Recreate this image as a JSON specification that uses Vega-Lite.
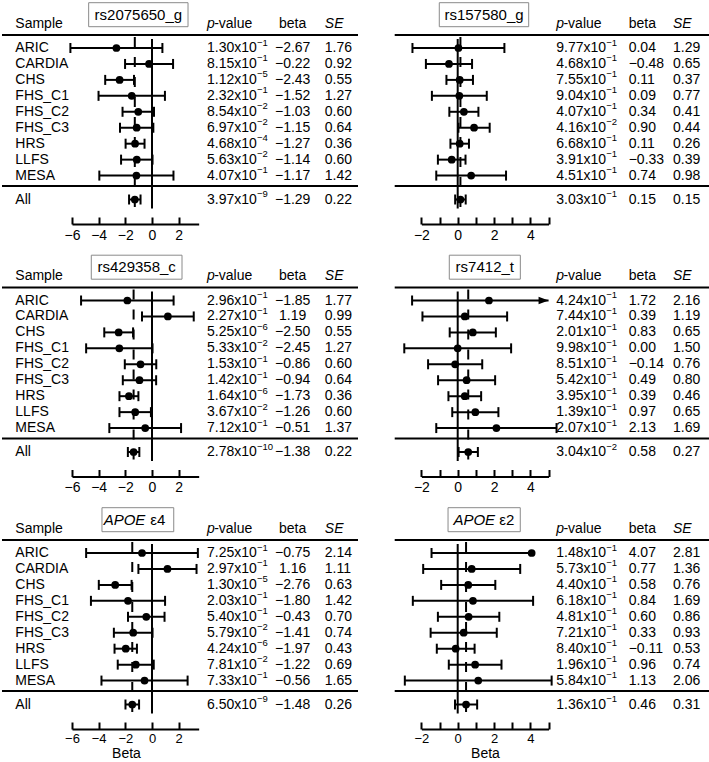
{
"$schema": "https://vega.github.io/schema/vega-lite/v6.json",
"padding": 0,
"background": "white",
"config": {"view": {"stroke": null}, "font": "Liberation Sans", "text": {"font": "Liberation Sans", "fontSize": 14, "color": "black", "baseline": "middle"}, "axis": {"labelFont": "Liberation Sans", "titleFont": "Liberation Sans"}},
"datasets": {
"rs2075650_g": [
{"study":"ARIC","pm":1.30,"pe":-1,"beta":-2.67,"se":1.76,"lo":-6.12,"hi":0.78},
{"study":"CARDIA","pm":8.15,"pe":-1,"beta":-0.22,"se":0.92,"lo":-2.02,"hi":1.58},
{"study":"CHS","pm":1.12,"pe":-5,"beta":-2.43,"se":0.55,"lo":-3.51,"hi":-1.35},
{"study":"FHS_C1","pm":2.32,"pe":-1,"beta":-1.52,"se":1.27,"lo":-4.01,"hi":0.97},
{"study":"FHS_C2","pm":8.54,"pe":-2,"beta":-1.03,"se":0.60,"lo":-2.21,"hi":0.15},
{"study":"FHS_C3","pm":6.97,"pe":-2,"beta":-1.15,"se":0.64,"lo":-2.40,"hi":0.10},
{"study":"HRS","pm":4.68,"pe":-4,"beta":-1.27,"se":0.36,"lo":-1.98,"hi":-0.56},
{"study":"LLFS","pm":5.63,"pe":-2,"beta":-1.14,"se":0.60,"lo":-2.32,"hi":0.04},
{"study":"MESA","pm":4.07,"pe":-1,"beta":-1.17,"se":1.42,"lo":-3.95,"hi":1.61},
{"study":"All","pm":3.97,"pe":-9,"beta":-1.29,"se":0.22,"lo":-1.72,"hi":-0.86}
],
"rs157580_g": [
{"study":"ARIC","pm":9.77,"pe":-1,"beta":0.04,"se":1.29,"lo":-2.49,"hi":2.57},
{"study":"CARDIA","pm":4.68,"pe":-1,"beta":-0.48,"se":0.65,"lo":-1.75,"hi":0.79},
{"study":"CHS","pm":7.55,"pe":-1,"beta":0.11,"se":0.37,"lo":-0.62,"hi":0.84},
{"study":"FHS_C1","pm":9.04,"pe":-1,"beta":0.09,"se":0.77,"lo":-1.42,"hi":1.60},
{"study":"FHS_C2","pm":4.07,"pe":-1,"beta":0.34,"se":0.41,"lo":-0.46,"hi":1.14},
{"study":"FHS_C3","pm":4.16,"pe":-2,"beta":0.90,"se":0.44,"lo":0.04,"hi":1.76},
{"study":"HRS","pm":6.68,"pe":-1,"beta":0.11,"se":0.26,"lo":-0.40,"hi":0.62},
{"study":"LLFS","pm":3.91,"pe":-1,"beta":-0.33,"se":0.39,"lo":-1.09,"hi":0.43},
{"study":"MESA","pm":4.51,"pe":-1,"beta":0.74,"se":0.98,"lo":-1.18,"hi":2.66},
{"study":"All","pm":3.03,"pe":-1,"beta":0.15,"se":0.15,"lo":-0.14,"hi":0.44}
],
"rs429358_c": [
{"study":"ARIC","pm":2.96,"pe":-1,"beta":-1.85,"se":1.77,"lo":-5.32,"hi":1.62},
{"study":"CARDIA","pm":2.27,"pe":-1,"beta":1.19,"se":0.99,"lo":-0.75,"hi":3.13},
{"study":"CHS","pm":5.25,"pe":-6,"beta":-2.50,"se":0.55,"lo":-3.58,"hi":-1.42},
{"study":"FHS_C1","pm":5.33,"pe":-2,"beta":-2.45,"se":1.27,"lo":-4.94,"hi":0.04},
{"study":"FHS_C2","pm":1.53,"pe":-1,"beta":-0.86,"se":0.60,"lo":-2.04,"hi":0.32},
{"study":"FHS_C3","pm":1.42,"pe":-1,"beta":-0.94,"se":0.64,"lo":-2.19,"hi":0.31},
{"study":"HRS","pm":1.64,"pe":-6,"beta":-1.73,"se":0.36,"lo":-2.44,"hi":-1.02},
{"study":"LLFS","pm":3.67,"pe":-2,"beta":-1.26,"se":0.60,"lo":-2.44,"hi":-0.08},
{"study":"MESA","pm":7.12,"pe":-1,"beta":-0.51,"se":1.37,"lo":-3.20,"hi":2.18},
{"study":"All","pm":2.78,"pe":-10,"beta":-1.38,"se":0.22,"lo":-1.81,"hi":-0.95}
],
"rs7412_t": [
{"study":"ARIC","pm":4.24,"pe":-1,"beta":1.72,"se":2.16,"lo":-2.51,"hi":5.0,"trunc":"arrow"},
{"study":"CARDIA","pm":7.44,"pe":-1,"beta":0.39,"se":1.19,"lo":-1.94,"hi":2.72},
{"study":"CHS","pm":2.01,"pe":-1,"beta":0.83,"se":0.65,"lo":-0.44,"hi":2.10},
{"study":"FHS_C1","pm":9.98,"pe":-1,"beta":0.00,"se":1.50,"lo":-2.94,"hi":2.94},
{"study":"FHS_C2","pm":8.51,"pe":-1,"beta":-0.14,"se":0.76,"lo":-1.63,"hi":1.35},
{"study":"FHS_C3","pm":5.42,"pe":-1,"beta":0.49,"se":0.80,"lo":-1.08,"hi":2.06},
{"study":"HRS","pm":3.95,"pe":-1,"beta":0.39,"se":0.46,"lo":-0.51,"hi":1.29},
{"study":"LLFS","pm":1.39,"pe":-1,"beta":0.97,"se":0.65,"lo":-0.30,"hi":2.24},
{"study":"MESA","pm":2.07,"pe":-1,"beta":2.13,"se":1.69,"lo":-1.18,"hi":5.44},
{"study":"All","pm":3.04,"pe":-2,"beta":0.58,"se":0.27,"lo":0.05,"hi":1.11}
],
"apoe4": [
{"study":"ARIC","pm":7.25,"pe":-1,"beta":-0.75,"se":2.14,"lo":-4.94,"hi":3.44},
{"study":"CARDIA","pm":2.97,"pe":-1,"beta":1.16,"se":1.11,"lo":-1.02,"hi":3.34},
{"study":"CHS","pm":1.30,"pe":-5,"beta":-2.76,"se":0.63,"lo":-3.99,"hi":-1.53},
{"study":"FHS_C1","pm":2.03,"pe":-1,"beta":-1.80,"se":1.42,"lo":-4.58,"hi":0.98},
{"study":"FHS_C2","pm":5.40,"pe":-1,"beta":-0.43,"se":0.70,"lo":-1.80,"hi":0.94},
{"study":"FHS_C3","pm":5.79,"pe":-2,"beta":-1.41,"se":0.74,"lo":-2.86,"hi":0.04},
{"study":"HRS","pm":4.24,"pe":-6,"beta":-1.97,"se":0.43,"lo":-2.81,"hi":-1.13},
{"study":"LLFS","pm":7.81,"pe":-2,"beta":-1.22,"se":0.69,"lo":-2.57,"hi":0.13},
{"study":"MESA","pm":7.33,"pe":-1,"beta":-0.56,"se":1.65,"lo":-3.79,"hi":2.67},
{"study":"All","pm":6.50,"pe":-9,"beta":-1.48,"se":0.26,"lo":-1.99,"hi":-0.97}
],
"apoe2": [
{"study":"ARIC","pm":1.48,"pe":-1,"beta":4.07,"se":2.81,"lo":-1.44,"hi":4.07,"trunc":"hidden"},
{"study":"CARDIA","pm":5.73,"pe":-1,"beta":0.77,"se":1.36,"lo":-1.90,"hi":3.44},
{"study":"CHS","pm":4.40,"pe":-1,"beta":0.58,"se":0.76,"lo":-0.91,"hi":2.07},
{"study":"FHS_C1","pm":6.18,"pe":-1,"beta":0.84,"se":1.69,"lo":-2.47,"hi":4.15},
{"study":"FHS_C2","pm":4.81,"pe":-1,"beta":0.60,"se":0.86,"lo":-1.09,"hi":2.29},
{"study":"FHS_C3","pm":7.21,"pe":-1,"beta":0.33,"se":0.93,"lo":-1.49,"hi":2.15},
{"study":"HRS","pm":8.40,"pe":-1,"beta":-0.11,"se":0.53,"lo":-1.15,"hi":0.93},
{"study":"LLFS","pm":1.96,"pe":-1,"beta":0.96,"se":0.74,"lo":-0.49,"hi":2.41},
{"study":"MESA","pm":5.84,"pe":-1,"beta":1.13,"se":2.06,"lo":-2.91,"hi":5.17},
{"study":"All","pm":1.36,"pe":-1,"beta":0.46,"se":0.31,"lo":-0.15,"hi":1.07}
]
},
"columns": 2,
"spacing": {"row": 30.5, "column": 5},
"bounds": "flush",
"concat": [
{"width": 355, "height": 222, "data": {"name": "rs2075650_g"},
 "encoding": {"y": {"field": "study", "type": "nominal", "axis": null, "scale": {"type": "point", "padding": 0, "range": [46, 197.5], "domain": ["ARIC","s1","CARDIA","s2","CHS","s3","FHS_C1","s4","FHS_C2","s5","FHS_C3","s6","HRS","s7","LLFS","s8","MESA","s9","s10","All"]}}},
 "layer": [
  {"mark": {"type": "rule", "color": "black", "strokeWidth": 2}, "encoding": {"x": {"field": "lo", "type": "quantitative", "scale": {"domain": [-6, 3.5], "range": [70, 196.67], "nice": false, "zero": false}, "axis": {"values": [-6,-5,-4,-3,-2,-1,0,1,2,3], "labelExpr": "datum.value % 2 === 0 ? datum.label : ''", "tickSize": -7, "tickWidth": 2, "tickColor": "black", "domainColor": "black", "domainWidth": 2, "labelFontSize": 14, "labelColor": "black", "labelPadding": 18, "labelBaseline": "middle", "labelFlush": false, "labelOverlap": false, "grid": false, "title": null}}, "x2": {"field": "hi"}}},
  {"transform": [{"filter": "datum.study === 'All'"}], "mark": {"type": "rule", "color": "black", "strokeWidth": 2, "yOffset": -13}, "encoding": {"x": {"datum": -11.25, "type": "quantitative"}, "x2": {"datum": 15.45}, "y": {"datum": "ARIC", "type": "nominal"}}},
  {"transform": [{"filter": "datum.study === 'All'"}], "mark": {"type": "rule", "color": "black", "strokeWidth": 2, "yOffset": 10.5}, "encoding": {"x": {"datum": -11.25, "type": "quantitative"}, "x2": {"datum": 15.45}, "y": {"datum": "MESA", "type": "nominal"}}},
  {"transform": [{"filter": "datum.study === 'All'"}], "mark": {"type": "rule", "color": "black", "strokeWidth": 2, "yOffset": -9, "y2Offset": 9}, "encoding": {"x": {"datum": 0, "type": "quantitative"}, "y": {"datum": "ARIC", "type": "nominal"}, "y2": {"datum": "All"}}},
  {"transform": [{"filter": "datum.study === 'All'"}], "mark": {"type": "rule", "color": "black", "strokeWidth": 2, "strokeDash": [10, 10], "yOffset": -11, "y2Offset": 9}, "encoding": {"x": {"field": "beta", "type": "quantitative"}, "y": {"datum": "ARIC", "type": "nominal"}, "y2": {"datum": "All"}}},
  {"transform": [{"fold": ["lo", "hi"], "as": ["end", "xv"]}, {"filter": "datum.end === 'lo' || !datum.trunc"}], "mark": {"type": "point", "shape": "M0,-1L0,1", "size": 100, "filled": false, "stroke": "black", "strokeWidth": 2, "opacity": 1}, "encoding": {"x": {"field": "xv", "type": "quantitative"}}},
  {"mark": {"type": "point", "shape": "circle", "size": 60, "filled": true, "color": "black", "opacity": 1}, "encoding": {"x": {"field": "beta", "type": "quantitative"}}},
  {"transform": [{"filter": "datum.study === 'All'"}], "mark": {"type": "point", "shape": "M-4.14,-1L4.14,-1L4.14,1L-4.14,1Z", "size": 576, "filled": true, "fill": "white", "stroke": "#8a8a8a", "strokeWidth": 1, "opacity": 1, "yOffset": -33.3}, "encoding": {"x": {"datum": -1.024, "type": "quantitative"}, "y": {"datum": "ARIC", "type": "nominal"}}},
  {"transform": [{"filter": "datum.study === 'All'"}], "mark": {"type": "text", "text": "rs2075650_g", "fontSize": 15, "align": "center", "dy": -33.3}, "encoding": {"x": {"datum": -1.024, "type": "quantitative"}, "y": {"datum": "ARIC", "type": "nominal"}}},
  {"transform": [{"filter": "datum.study === 'All'"}], "mark": {"type": "text", "text": "Sample", "align": "left", "dy": -24.5}, "encoding": {"x": {"datum": -10.25, "type": "quantitative"}, "y": {"datum": "ARIC", "type": "nominal"}}},
  {"transform": [{"filter": "datum.study === 'All'"}], "mark": {"type": "text", "text": "p", "fontStyle": "italic", "align": "left", "dy": -24.5}, "encoding": {"x": {"datum": 4.125, "type": "quantitative"}, "y": {"datum": "ARIC", "type": "nominal"}}},
  {"transform": [{"filter": "datum.study === 'All'"}], "mark": {"type": "text", "text": "-value", "align": "left", "dy": -24.5}, "encoding": {"x": {"datum": 4.66, "type": "quantitative"}, "y": {"datum": "ARIC", "type": "nominal"}}},
  {"transform": [{"filter": "datum.study === 'All'"}], "mark": {"type": "text", "text": "beta", "align": "center", "dy": -24.5}, "encoding": {"x": {"datum": 10.55, "type": "quantitative"}, "y": {"datum": "ARIC", "type": "nominal"}}},
  {"transform": [{"filter": "datum.study === 'All'"}], "mark": {"type": "text", "text": "SE", "fontStyle": "italic", "align": "left", "dy": -24.5}, "encoding": {"x": {"datum": 12.96, "type": "quantitative"}, "y": {"datum": "ARIC", "type": "nominal"}}},
  {"mark": {"type": "text", "align": "left"}, "encoding": {"x": {"datum": -10.25, "type": "quantitative"}, "text": {"field": "study"}}},
  {"transform": [{"calculate": "format(datum.pm, '.2f') + 'x10'", "as": "ptxt"}], "mark": {"type": "text", "align": "left"}, "encoding": {"x": {"datum": 4.125, "type": "quantitative"}, "text": {"field": "ptxt"}}},
  {"mark": {"type": "text", "align": "left", "fontSize": 9.5, "dy": -5.5}, "encoding": {"x": {"datum": 7.875, "type": "quantitative"}, "text": {"field": "pe", "type": "quantitative", "format": "d"}}},
  {"mark": {"type": "text", "align": "center"}, "encoding": {"x": {"datum": 10.55, "type": "quantitative"}, "text": {"field": "beta", "type": "quantitative", "format": ".2f"}}},
  {"mark": {"type": "text", "align": "left"}, "encoding": {"x": {"datum": 12.96, "type": "quantitative"}, "text": {"field": "se", "type": "quantitative", "format": ".2f"}}}
 ]},
{"width": 349, "height": 222, "data": {"name": "rs157580_g"},
 "encoding": {"y": {"field": "study", "type": "nominal", "axis": null, "scale": {"type": "point", "padding": 0, "range": [46, 197.5], "domain": ["ARIC","s1","CARDIA","s2","CHS","s3","FHS_C1","s4","FHS_C2","s5","FHS_C3","s6","HRS","s7","LLFS","s8","MESA","s9","s10","All"]}}},
 "layer": [
  {"mark": {"type": "rule", "color": "black", "strokeWidth": 2}, "encoding": {"x": {"field": "lo", "type": "quantitative", "scale": {"domain": [-2, 5], "range": [59.36, 186.55], "nice": false, "zero": false}, "axis": {"values": [-2,-1,0,1,2,3,4,5], "labelExpr": "datum.value % 2 === 0 ? datum.label : ''", "tickSize": -7, "tickWidth": 2, "tickColor": "black", "domainColor": "black", "domainWidth": 2, "labelFontSize": 14, "labelColor": "black", "labelPadding": 18, "labelBaseline": "middle", "labelFlush": false, "labelOverlap": false, "grid": false, "title": null}}, "x2": {"field": "hi"}}},
  {"transform": [{"filter": "datum.study === 'All'"}], "mark": {"type": "rule", "color": "black", "strokeWidth": 2, "yOffset": -13}, "encoding": {"x": {"datum": -3.467, "type": "quantitative"}, "x2": {"datum": 13.94}, "y": {"datum": "ARIC", "type": "nominal"}}},
  {"transform": [{"filter": "datum.study === 'All'"}], "mark": {"type": "rule", "color": "black", "strokeWidth": 2, "yOffset": 10.5}, "encoding": {"x": {"datum": -3.467, "type": "quantitative"}, "x2": {"datum": 13.94}, "y": {"datum": "MESA", "type": "nominal"}}},
  {"transform": [{"filter": "datum.study === 'All'"}], "mark": {"type": "rule", "color": "black", "strokeWidth": 2, "yOffset": -9, "y2Offset": 9}, "encoding": {"x": {"datum": 0, "type": "quantitative"}, "y": {"datum": "ARIC", "type": "nominal"}, "y2": {"datum": "All"}}},
  {"transform": [{"filter": "datum.study === 'All'"}], "mark": {"type": "rule", "color": "black", "strokeWidth": 2, "strokeDash": [10, 10], "yOffset": -11, "y2Offset": 9}, "encoding": {"x": {"field": "beta", "type": "quantitative"}, "y": {"datum": "ARIC", "type": "nominal"}, "y2": {"datum": "All"}}},
  {"transform": [{"fold": ["lo", "hi"], "as": ["end", "xv"]}, {"filter": "datum.end === 'lo' || !datum.trunc"}], "mark": {"type": "point", "shape": "M0,-1L0,1", "size": 100, "filled": false, "stroke": "black", "strokeWidth": 2, "opacity": 1}, "encoding": {"x": {"field": "xv", "type": "quantitative"}}},
  {"mark": {"type": "point", "shape": "circle", "size": 60, "filled": true, "color": "black", "opacity": 1}, "encoding": {"x": {"field": "beta", "type": "quantitative"}}},
  {"transform": [{"filter": "datum.study === 'All'"}], "mark": {"type": "point", "shape": "M-3.725,-1L3.725,-1L3.725,1L-3.725,1Z", "size": 576, "filled": true, "fill": "white", "stroke": "#8a8a8a", "strokeWidth": 1, "opacity": 1, "yOffset": -33.3}, "encoding": {"x": {"datum": 1.447, "type": "quantitative"}, "y": {"datum": "ARIC", "type": "nominal"}}},
  {"transform": [{"filter": "datum.study === 'All'"}], "mark": {"type": "text", "text": "rs157580_g", "fontSize": 15, "align": "center", "dy": -33.3}, "encoding": {"x": {"datum": 1.447, "type": "quantitative"}, "y": {"datum": "ARIC", "type": "nominal"}}},
  {"transform": [{"filter": "datum.study === 'All'"}], "mark": {"type": "text", "text": "p", "fontStyle": "italic", "align": "left", "dy": -24.5}, "encoding": {"x": {"datum": 5.427, "type": "quantitative"}, "y": {"datum": "ARIC", "type": "nominal"}}},
  {"transform": [{"filter": "datum.study === 'All'"}], "mark": {"type": "text", "text": "-value", "align": "left", "dy": -24.5}, "encoding": {"x": {"datum": 5.82, "type": "quantitative"}, "y": {"datum": "ARIC", "type": "nominal"}}},
  {"transform": [{"filter": "datum.study === 'All'"}], "mark": {"type": "text", "text": "beta", "align": "left", "dy": -24.5}, "encoding": {"x": {"datum": 9.411, "type": "quantitative"}, "y": {"datum": "ARIC", "type": "nominal"}}},
  {"transform": [{"filter": "datum.study === 'All'"}], "mark": {"type": "text", "text": "SE", "fontStyle": "italic", "align": "left", "dy": -24.5}, "encoding": {"x": {"datum": 11.85, "type": "quantitative"}, "y": {"datum": "ARIC", "type": "nominal"}}},
  {"transform": [{"calculate": "format(datum.pm, '.2f') + 'x10'", "as": "ptxt"}], "mark": {"type": "text", "align": "left"}, "encoding": {"x": {"datum": 5.427, "type": "quantitative"}, "text": {"field": "ptxt"}}},
  {"mark": {"type": "text", "align": "left", "fontSize": 9.5, "dy": -5.5}, "encoding": {"x": {"datum": 8.179, "type": "quantitative"}, "text": {"field": "pe", "type": "quantitative", "format": "d"}}},
  {"mark": {"type": "text", "align": "left"}, "encoding": {"x": {"datum": 9.411, "type": "quantitative"}, "text": {"field": "beta", "type": "quantitative", "format": ".2f"}}},
  {"mark": {"type": "text", "align": "left"}, "encoding": {"x": {"datum": 11.85, "type": "quantitative"}, "text": {"field": "se", "type": "quantitative", "format": ".2f"}}}
 ]},
{"width": 355, "height": 222, "data": {"name": "rs429358_c"},
 "encoding": {"y": {"field": "study", "type": "nominal", "axis": null, "scale": {"type": "point", "padding": 0, "range": [46, 197.5], "domain": ["ARIC","s1","CARDIA","s2","CHS","s3","FHS_C1","s4","FHS_C2","s5","FHS_C3","s6","HRS","s7","LLFS","s8","MESA","s9","s10","All"]}}},
 "layer": [
  {"mark": {"type": "rule", "color": "black", "strokeWidth": 2}, "encoding": {"x": {"field": "lo", "type": "quantitative", "scale": {"domain": [-6, 3.5], "range": [70, 196.67], "nice": false, "zero": false}, "axis": {"values": [-6,-5,-4,-3,-2,-1,0,1,2,3], "labelExpr": "datum.value % 2 === 0 ? datum.label : ''", "tickSize": -7, "tickWidth": 2, "tickColor": "black", "domainColor": "black", "domainWidth": 2, "labelFontSize": 14, "labelColor": "black", "labelPadding": 18, "labelBaseline": "middle", "labelFlush": false, "labelOverlap": false, "grid": false, "title": null}}, "x2": {"field": "hi"}}},
  {"transform": [{"filter": "datum.study === 'All'"}], "mark": {"type": "rule", "color": "black", "strokeWidth": 2, "yOffset": -13}, "encoding": {"x": {"datum": -11.25, "type": "quantitative"}, "x2": {"datum": 15.45}, "y": {"datum": "ARIC", "type": "nominal"}}},
  {"transform": [{"filter": "datum.study === 'All'"}], "mark": {"type": "rule", "color": "black", "strokeWidth": 2, "yOffset": 10.5}, "encoding": {"x": {"datum": -11.25, "type": "quantitative"}, "x2": {"datum": 15.45}, "y": {"datum": "MESA", "type": "nominal"}}},
  {"transform": [{"filter": "datum.study === 'All'"}], "mark": {"type": "rule", "color": "black", "strokeWidth": 2, "yOffset": -9, "y2Offset": 9}, "encoding": {"x": {"datum": 0, "type": "quantitative"}, "y": {"datum": "ARIC", "type": "nominal"}, "y2": {"datum": "All"}}},
  {"transform": [{"filter": "datum.study === 'All'"}], "mark": {"type": "rule", "color": "black", "strokeWidth": 2, "strokeDash": [10, 10], "yOffset": -11, "y2Offset": 9}, "encoding": {"x": {"field": "beta", "type": "quantitative"}, "y": {"datum": "ARIC", "type": "nominal"}, "y2": {"datum": "All"}}},
  {"transform": [{"fold": ["lo", "hi"], "as": ["end", "xv"]}, {"filter": "datum.end === 'lo' || !datum.trunc"}], "mark": {"type": "point", "shape": "M0,-1L0,1", "size": 100, "filled": false, "stroke": "black", "strokeWidth": 2, "opacity": 1}, "encoding": {"x": {"field": "xv", "type": "quantitative"}}},
  {"mark": {"type": "point", "shape": "circle", "size": 60, "filled": true, "color": "black", "opacity": 1}, "encoding": {"x": {"field": "beta", "type": "quantitative"}}},
  {"transform": [{"filter": "datum.study === 'All'"}], "mark": {"type": "point", "shape": "M-3.78,-1L3.78,-1L3.78,1L-3.78,1Z", "size": 576, "filled": true, "fill": "white", "stroke": "#8a8a8a", "strokeWidth": 1, "opacity": 1, "yOffset": -33.3}, "encoding": {"x": {"datum": -1.151, "type": "quantitative"}, "y": {"datum": "ARIC", "type": "nominal"}}},
  {"transform": [{"filter": "datum.study === 'All'"}], "mark": {"type": "text", "text": "rs429358_c", "fontSize": 15, "align": "center", "dy": -33.3}, "encoding": {"x": {"datum": -1.151, "type": "quantitative"}, "y": {"datum": "ARIC", "type": "nominal"}}},
  {"transform": [{"filter": "datum.study === 'All'"}], "mark": {"type": "text", "text": "Sample", "align": "left", "dy": -24.5}, "encoding": {"x": {"datum": -10.25, "type": "quantitative"}, "y": {"datum": "ARIC", "type": "nominal"}}},
  {"transform": [{"filter": "datum.study === 'All'"}], "mark": {"type": "text", "text": "p", "fontStyle": "italic", "align": "left", "dy": -24.5}, "encoding": {"x": {"datum": 4.125, "type": "quantitative"}, "y": {"datum": "ARIC", "type": "nominal"}}},
  {"transform": [{"filter": "datum.study === 'All'"}], "mark": {"type": "text", "text": "-value", "align": "left", "dy": -24.5}, "encoding": {"x": {"datum": 4.66, "type": "quantitative"}, "y": {"datum": "ARIC", "type": "nominal"}}},
  {"transform": [{"filter": "datum.study === 'All'"}], "mark": {"type": "text", "text": "beta", "align": "center", "dy": -24.5}, "encoding": {"x": {"datum": 10.55, "type": "quantitative"}, "y": {"datum": "ARIC", "type": "nominal"}}},
  {"transform": [{"filter": "datum.study === 'All'"}], "mark": {"type": "text", "text": "SE", "fontStyle": "italic", "align": "left", "dy": -24.5}, "encoding": {"x": {"datum": 12.96, "type": "quantitative"}, "y": {"datum": "ARIC", "type": "nominal"}}},
  {"mark": {"type": "text", "align": "left"}, "encoding": {"x": {"datum": -10.25, "type": "quantitative"}, "text": {"field": "study"}}},
  {"transform": [{"calculate": "format(datum.pm, '.2f') + 'x10'", "as": "ptxt"}], "mark": {"type": "text", "align": "left"}, "encoding": {"x": {"datum": 4.125, "type": "quantitative"}, "text": {"field": "ptxt"}}},
  {"mark": {"type": "text", "align": "left", "fontSize": 9.5, "dy": -5.5}, "encoding": {"x": {"datum": 7.875, "type": "quantitative"}, "text": {"field": "pe", "type": "quantitative", "format": "d"}}},
  {"mark": {"type": "text", "align": "center"}, "encoding": {"x": {"datum": 10.55, "type": "quantitative"}, "text": {"field": "beta", "type": "quantitative", "format": ".2f"}}},
  {"mark": {"type": "text", "align": "left"}, "encoding": {"x": {"datum": 12.96, "type": "quantitative"}, "text": {"field": "se", "type": "quantitative", "format": ".2f"}}}
 ]},
{"width": 349, "height": 222, "data": {"name": "rs7412_t"},
 "encoding": {"y": {"field": "study", "type": "nominal", "axis": null, "scale": {"type": "point", "padding": 0, "range": [46, 197.5], "domain": ["ARIC","s1","CARDIA","s2","CHS","s3","FHS_C1","s4","FHS_C2","s5","FHS_C3","s6","HRS","s7","LLFS","s8","MESA","s9","s10","All"]}}},
 "layer": [
  {"mark": {"type": "rule", "color": "black", "strokeWidth": 2}, "encoding": {"x": {"field": "lo", "type": "quantitative", "scale": {"domain": [-2, 5], "range": [59.36, 186.55], "nice": false, "zero": false}, "axis": {"values": [-2,-1,0,1,2,3,4,5], "labelExpr": "datum.value % 2 === 0 ? datum.label : ''", "tickSize": -7, "tickWidth": 2, "tickColor": "black", "domainColor": "black", "domainWidth": 2, "labelFontSize": 14, "labelColor": "black", "labelPadding": 18, "labelBaseline": "middle", "labelFlush": false, "labelOverlap": false, "grid": false, "title": null}}, "x2": {"field": "hi"}}},
  {"transform": [{"filter": "datum.study === 'All'"}], "mark": {"type": "rule", "color": "black", "strokeWidth": 2, "yOffset": -13}, "encoding": {"x": {"datum": -3.467, "type": "quantitative"}, "x2": {"datum": 13.94}, "y": {"datum": "ARIC", "type": "nominal"}}},
  {"transform": [{"filter": "datum.study === 'All'"}], "mark": {"type": "rule", "color": "black", "strokeWidth": 2, "yOffset": 10.5}, "encoding": {"x": {"datum": -3.467, "type": "quantitative"}, "x2": {"datum": 13.94}, "y": {"datum": "MESA", "type": "nominal"}}},
  {"transform": [{"filter": "datum.study === 'All'"}], "mark": {"type": "rule", "color": "black", "strokeWidth": 2, "yOffset": -9, "y2Offset": 9}, "encoding": {"x": {"datum": 0, "type": "quantitative"}, "y": {"datum": "ARIC", "type": "nominal"}, "y2": {"datum": "All"}}},
  {"transform": [{"filter": "datum.study === 'All'"}], "mark": {"type": "rule", "color": "black", "strokeWidth": 2, "strokeDash": [10, 10], "yOffset": -11, "y2Offset": 9}, "encoding": {"x": {"field": "beta", "type": "quantitative"}, "y": {"datum": "ARIC", "type": "nominal"}, "y2": {"datum": "All"}}},
  {"transform": [{"fold": ["lo", "hi"], "as": ["end", "xv"]}, {"filter": "datum.end === 'lo' || !datum.trunc"}], "mark": {"type": "point", "shape": "M0,-1L0,1", "size": 100, "filled": false, "stroke": "black", "strokeWidth": 2, "opacity": 1}, "encoding": {"x": {"field": "xv", "type": "quantitative"}}},
  {"transform": [{"filter": "datum.trunc === 'arrow'"}], "mark": {"type": "point", "shape": "M-2,-0.75L0,0L-2,0.75Z", "size": 100, "filled": true, "color": "black", "strokeWidth": 0, "opacity": 1}, "encoding": {"x": {"field": "hi", "type": "quantitative"}}},
  {"mark": {"type": "point", "shape": "circle", "size": 60, "filled": true, "color": "black", "opacity": 1}, "encoding": {"x": {"field": "beta", "type": "quantitative"}}},
  {"transform": [{"filter": "datum.study === 'All'"}], "mark": {"type": "point", "shape": "M-2.96,-1L2.96,-1L2.96,1L-2.96,1Z", "size": 576, "filled": true, "fill": "white", "stroke": "#8a8a8a", "strokeWidth": 1, "opacity": 1, "yOffset": -33.3}, "encoding": {"x": {"datum": 1.492, "type": "quantitative"}, "y": {"datum": "ARIC", "type": "nominal"}}},
  {"transform": [{"filter": "datum.study === 'All'"}], "mark": {"type": "text", "text": "rs7412_t", "fontSize": 15, "align": "center", "dy": -33.3}, "encoding": {"x": {"datum": 1.492, "type": "quantitative"}, "y": {"datum": "ARIC", "type": "nominal"}}},
  {"transform": [{"filter": "datum.study === 'All'"}], "mark": {"type": "text", "text": "p", "fontStyle": "italic", "align": "left", "dy": -24.5}, "encoding": {"x": {"datum": 5.427, "type": "quantitative"}, "y": {"datum": "ARIC", "type": "nominal"}}},
  {"transform": [{"filter": "datum.study === 'All'"}], "mark": {"type": "text", "text": "-value", "align": "left", "dy": -24.5}, "encoding": {"x": {"datum": 5.82, "type": "quantitative"}, "y": {"datum": "ARIC", "type": "nominal"}}},
  {"transform": [{"filter": "datum.study === 'All'"}], "mark": {"type": "text", "text": "beta", "align": "left", "dy": -24.5}, "encoding": {"x": {"datum": 9.411, "type": "quantitative"}, "y": {"datum": "ARIC", "type": "nominal"}}},
  {"transform": [{"filter": "datum.study === 'All'"}], "mark": {"type": "text", "text": "SE", "fontStyle": "italic", "align": "left", "dy": -24.5}, "encoding": {"x": {"datum": 11.85, "type": "quantitative"}, "y": {"datum": "ARIC", "type": "nominal"}}},
  {"transform": [{"calculate": "format(datum.pm, '.2f') + 'x10'", "as": "ptxt"}], "mark": {"type": "text", "align": "left"}, "encoding": {"x": {"datum": 5.427, "type": "quantitative"}, "text": {"field": "ptxt"}}},
  {"mark": {"type": "text", "align": "left", "fontSize": 9.5, "dy": -5.5}, "encoding": {"x": {"datum": 8.179, "type": "quantitative"}, "text": {"field": "pe", "type": "quantitative", "format": "d"}}},
  {"mark": {"type": "text", "align": "left"}, "encoding": {"x": {"datum": 9.411, "type": "quantitative"}, "text": {"field": "beta", "type": "quantitative", "format": ".2f"}}},
  {"mark": {"type": "text", "align": "left"}, "encoding": {"x": {"datum": 11.85, "type": "quantitative"}, "text": {"field": "se", "type": "quantitative", "format": ".2f"}}}
 ]},
{"width": 355, "height": 222, "data": {"name": "apoe4"},
 "encoding": {"y": {"field": "study", "type": "nominal", "axis": null, "scale": {"type": "point", "padding": 0, "range": [46, 197.5], "domain": ["ARIC","s1","CARDIA","s2","CHS","s3","FHS_C1","s4","FHS_C2","s5","FHS_C3","s6","HRS","s7","LLFS","s8","MESA","s9","s10","All"]}}},
 "layer": [
  {"mark": {"type": "rule", "color": "black", "strokeWidth": 2}, "encoding": {"x": {"field": "lo", "type": "quantitative", "scale": {"domain": [-6, 3.5], "range": [70, 196.67], "nice": false, "zero": false}, "axis": {"values": [-6,-5,-4,-3,-2,-1,0,1,2,3], "labelExpr": "datum.value % 2 === 0 ? datum.label : ''", "tickSize": -7, "tickWidth": 2, "tickColor": "black", "domainColor": "black", "domainWidth": 2, "labelFontSize": 13, "labelColor": "black", "labelPadding": 16, "labelBaseline": "middle", "labelFlush": false, "labelOverlap": false, "grid": false, "title": "Beta", "titleFontSize": 14, "titleFontWeight": "normal", "titleColor": "black", "titlePadding": 1.5, "titleX": 124}}, "x2": {"field": "hi"}}},
  {"transform": [{"filter": "datum.study === 'All'"}], "mark": {"type": "rule", "color": "black", "strokeWidth": 2, "yOffset": -13}, "encoding": {"x": {"datum": -11.25, "type": "quantitative"}, "x2": {"datum": 15.45}, "y": {"datum": "ARIC", "type": "nominal"}}},
  {"transform": [{"filter": "datum.study === 'All'"}], "mark": {"type": "rule", "color": "black", "strokeWidth": 2, "yOffset": 10.5}, "encoding": {"x": {"datum": -11.25, "type": "quantitative"}, "x2": {"datum": 15.45}, "y": {"datum": "MESA", "type": "nominal"}}},
  {"transform": [{"filter": "datum.study === 'All'"}], "mark": {"type": "rule", "color": "black", "strokeWidth": 2, "yOffset": -9, "y2Offset": 9}, "encoding": {"x": {"datum": 0, "type": "quantitative"}, "y": {"datum": "ARIC", "type": "nominal"}, "y2": {"datum": "All"}}},
  {"transform": [{"filter": "datum.study === 'All'"}], "mark": {"type": "rule", "color": "black", "strokeWidth": 2, "strokeDash": [10, 10], "yOffset": -11, "y2Offset": 9}, "encoding": {"x": {"field": "beta", "type": "quantitative"}, "y": {"datum": "ARIC", "type": "nominal"}, "y2": {"datum": "All"}}},
  {"transform": [{"fold": ["lo", "hi"], "as": ["end", "xv"]}, {"filter": "datum.end === 'lo' || !datum.trunc"}], "mark": {"type": "point", "shape": "M0,-1L0,1", "size": 100, "filled": false, "stroke": "black", "strokeWidth": 2, "opacity": 1}, "encoding": {"x": {"field": "xv", "type": "quantitative"}}},
  {"mark": {"type": "point", "shape": "circle", "size": 60, "filled": true, "color": "black", "opacity": 1}, "encoding": {"x": {"field": "beta", "type": "quantitative"}}},
  {"transform": [{"filter": "datum.study === 'All'"}], "mark": {"type": "point", "shape": "M-2.99,-1L2.99,-1L2.99,1L-2.99,1Z", "size": 576, "filled": true, "fill": "white", "stroke": "#8a8a8a", "strokeWidth": 1, "opacity": 1, "yOffset": -33.3}, "encoding": {"x": {"datum": -1.061, "type": "quantitative"}, "y": {"datum": "ARIC", "type": "nominal"}}},
  {"transform": [{"filter": "datum.study === 'All'"}], "mark": {"type": "text", "text": "APOE", "fontStyle": "italic", "fontSize": 15, "align": "right", "dy": -33.3}, "encoding": {"x": {"datum": -0.5, "type": "quantitative"}, "y": {"datum": "ARIC", "type": "nominal"}}},
  {"transform": [{"filter": "datum.study === 'All'"}], "mark": {"type": "text", "text": "ε4", "fontSize": 15, "align": "left", "dy": -33.3}, "encoding": {"x": {"datum": -0.13, "type": "quantitative"}, "y": {"datum": "ARIC", "type": "nominal"}}},
  {"transform": [{"filter": "datum.study === 'All'"}], "mark": {"type": "text", "text": "Sample", "align": "left", "dy": -24.5}, "encoding": {"x": {"datum": -10.25, "type": "quantitative"}, "y": {"datum": "ARIC", "type": "nominal"}}},
  {"transform": [{"filter": "datum.study === 'All'"}], "mark": {"type": "text", "text": "p", "fontStyle": "italic", "align": "left", "dy": -24.5}, "encoding": {"x": {"datum": 4.125, "type": "quantitative"}, "y": {"datum": "ARIC", "type": "nominal"}}},
  {"transform": [{"filter": "datum.study === 'All'"}], "mark": {"type": "text", "text": "-value", "align": "left", "dy": -24.5}, "encoding": {"x": {"datum": 4.66, "type": "quantitative"}, "y": {"datum": "ARIC", "type": "nominal"}}},
  {"transform": [{"filter": "datum.study === 'All'"}], "mark": {"type": "text", "text": "beta", "align": "center", "dy": -24.5}, "encoding": {"x": {"datum": 10.55, "type": "quantitative"}, "y": {"datum": "ARIC", "type": "nominal"}}},
  {"transform": [{"filter": "datum.study === 'All'"}], "mark": {"type": "text", "text": "SE", "fontStyle": "italic", "align": "left", "dy": -24.5}, "encoding": {"x": {"datum": 12.96, "type": "quantitative"}, "y": {"datum": "ARIC", "type": "nominal"}}},
  {"mark": {"type": "text", "align": "left"}, "encoding": {"x": {"datum": -10.25, "type": "quantitative"}, "text": {"field": "study"}}},
  {"transform": [{"calculate": "format(datum.pm, '.2f') + 'x10'", "as": "ptxt"}], "mark": {"type": "text", "align": "left"}, "encoding": {"x": {"datum": 4.125, "type": "quantitative"}, "text": {"field": "ptxt"}}},
  {"mark": {"type": "text", "align": "left", "fontSize": 9.5, "dy": -5.5}, "encoding": {"x": {"datum": 7.875, "type": "quantitative"}, "text": {"field": "pe", "type": "quantitative", "format": "d"}}},
  {"mark": {"type": "text", "align": "center"}, "encoding": {"x": {"datum": 10.55, "type": "quantitative"}, "text": {"field": "beta", "type": "quantitative", "format": ".2f"}}},
  {"mark": {"type": "text", "align": "left"}, "encoding": {"x": {"datum": 12.96, "type": "quantitative"}, "text": {"field": "se", "type": "quantitative", "format": ".2f"}}}
 ]},
{"width": 349, "height": 222, "data": {"name": "apoe2"},
 "encoding": {"y": {"field": "study", "type": "nominal", "axis": null, "scale": {"type": "point", "padding": 0, "range": [46, 197.5], "domain": ["ARIC","s1","CARDIA","s2","CHS","s3","FHS_C1","s4","FHS_C2","s5","FHS_C3","s6","HRS","s7","LLFS","s8","MESA","s9","s10","All"]}}},
 "layer": [
  {"mark": {"type": "rule", "color": "black", "strokeWidth": 2}, "encoding": {"x": {"field": "lo", "type": "quantitative", "scale": {"domain": [-2, 5], "range": [59.36, 186.55], "nice": false, "zero": false}, "axis": {"values": [-2,-1,0,1,2,3,4,5], "labelExpr": "datum.value % 2 === 0 ? datum.label : ''", "tickSize": -7, "tickWidth": 2, "tickColor": "black", "domainColor": "black", "domainWidth": 2, "labelFontSize": 13, "labelColor": "black", "labelPadding": 16, "labelBaseline": "middle", "labelFlush": false, "labelOverlap": false, "grid": false, "title": "Beta", "titleFontSize": 14, "titleFontWeight": "normal", "titleColor": "black", "titlePadding": 1.5}}, "x2": {"field": "hi"}}},
  {"transform": [{"filter": "datum.study === 'All'"}], "mark": {"type": "rule", "color": "black", "strokeWidth": 2, "yOffset": -13}, "encoding": {"x": {"datum": -3.467, "type": "quantitative"}, "x2": {"datum": 13.94}, "y": {"datum": "ARIC", "type": "nominal"}}},
  {"transform": [{"filter": "datum.study === 'All'"}], "mark": {"type": "rule", "color": "black", "strokeWidth": 2, "yOffset": 10.5}, "encoding": {"x": {"datum": -3.467, "type": "quantitative"}, "x2": {"datum": 13.94}, "y": {"datum": "MESA", "type": "nominal"}}},
  {"transform": [{"filter": "datum.study === 'All'"}], "mark": {"type": "rule", "color": "black", "strokeWidth": 2, "yOffset": -9, "y2Offset": 9}, "encoding": {"x": {"datum": 0, "type": "quantitative"}, "y": {"datum": "ARIC", "type": "nominal"}, "y2": {"datum": "All"}}},
  {"transform": [{"filter": "datum.study === 'All'"}], "mark": {"type": "rule", "color": "black", "strokeWidth": 2, "strokeDash": [10, 10], "yOffset": -11, "y2Offset": 9}, "encoding": {"x": {"field": "beta", "type": "quantitative"}, "y": {"datum": "ARIC", "type": "nominal"}, "y2": {"datum": "All"}}},
  {"transform": [{"fold": ["lo", "hi"], "as": ["end", "xv"]}, {"filter": "datum.end === 'lo' || !datum.trunc"}], "mark": {"type": "point", "shape": "M0,-1L0,1", "size": 100, "filled": false, "stroke": "black", "strokeWidth": 2, "opacity": 1}, "encoding": {"x": {"field": "xv", "type": "quantitative"}}},
  {"mark": {"type": "point", "shape": "circle", "size": 60, "filled": true, "color": "black", "opacity": 1}, "encoding": {"x": {"field": "beta", "type": "quantitative"}}},
  {"transform": [{"filter": "datum.study === 'All'"}], "mark": {"type": "point", "shape": "M-3.01,-1L3.01,-1L3.01,1L-3.01,1Z", "size": 576, "filled": true, "fill": "white", "stroke": "#8a8a8a", "strokeWidth": 1, "opacity": 1, "yOffset": -33.3}, "encoding": {"x": {"datum": 1.456, "type": "quantitative"}, "y": {"datum": "ARIC", "type": "nominal"}}},
  {"transform": [{"filter": "datum.study === 'All'"}], "mark": {"type": "text", "text": "APOE", "fontStyle": "italic", "fontSize": 15, "align": "right", "dy": -33.3}, "encoding": {"x": {"datum": 2.06, "type": "quantitative"}, "y": {"datum": "ARIC", "type": "nominal"}}},
  {"transform": [{"filter": "datum.study === 'All'"}], "mark": {"type": "text", "text": "ε2", "fontSize": 15, "align": "left", "dy": -33.3}, "encoding": {"x": {"datum": 2.29, "type": "quantitative"}, "y": {"datum": "ARIC", "type": "nominal"}}},
  {"transform": [{"filter": "datum.study === 'All'"}], "mark": {"type": "text", "text": "p", "fontStyle": "italic", "align": "left", "dy": -24.5}, "encoding": {"x": {"datum": 5.427, "type": "quantitative"}, "y": {"datum": "ARIC", "type": "nominal"}}},
  {"transform": [{"filter": "datum.study === 'All'"}], "mark": {"type": "text", "text": "-value", "align": "left", "dy": -24.5}, "encoding": {"x": {"datum": 5.82, "type": "quantitative"}, "y": {"datum": "ARIC", "type": "nominal"}}},
  {"transform": [{"filter": "datum.study === 'All'"}], "mark": {"type": "text", "text": "beta", "align": "left", "dy": -24.5}, "encoding": {"x": {"datum": 9.411, "type": "quantitative"}, "y": {"datum": "ARIC", "type": "nominal"}}},
  {"transform": [{"filter": "datum.study === 'All'"}], "mark": {"type": "text", "text": "SE", "fontStyle": "italic", "align": "left", "dy": -24.5}, "encoding": {"x": {"datum": 11.85, "type": "quantitative"}, "y": {"datum": "ARIC", "type": "nominal"}}},
  {"transform": [{"calculate": "format(datum.pm, '.2f') + 'x10'", "as": "ptxt"}], "mark": {"type": "text", "align": "left"}, "encoding": {"x": {"datum": 5.427, "type": "quantitative"}, "text": {"field": "ptxt"}}},
  {"mark": {"type": "text", "align": "left", "fontSize": 9.5, "dy": -5.5}, "encoding": {"x": {"datum": 8.179, "type": "quantitative"}, "text": {"field": "pe", "type": "quantitative", "format": "d"}}},
  {"mark": {"type": "text", "align": "left"}, "encoding": {"x": {"datum": 9.411, "type": "quantitative"}, "text": {"field": "beta", "type": "quantitative", "format": ".2f"}}},
  {"mark": {"type": "text", "align": "left"}, "encoding": {"x": {"datum": 11.85, "type": "quantitative"}, "text": {"field": "se", "type": "quantitative", "format": ".2f"}}}
 ]}
]
}
